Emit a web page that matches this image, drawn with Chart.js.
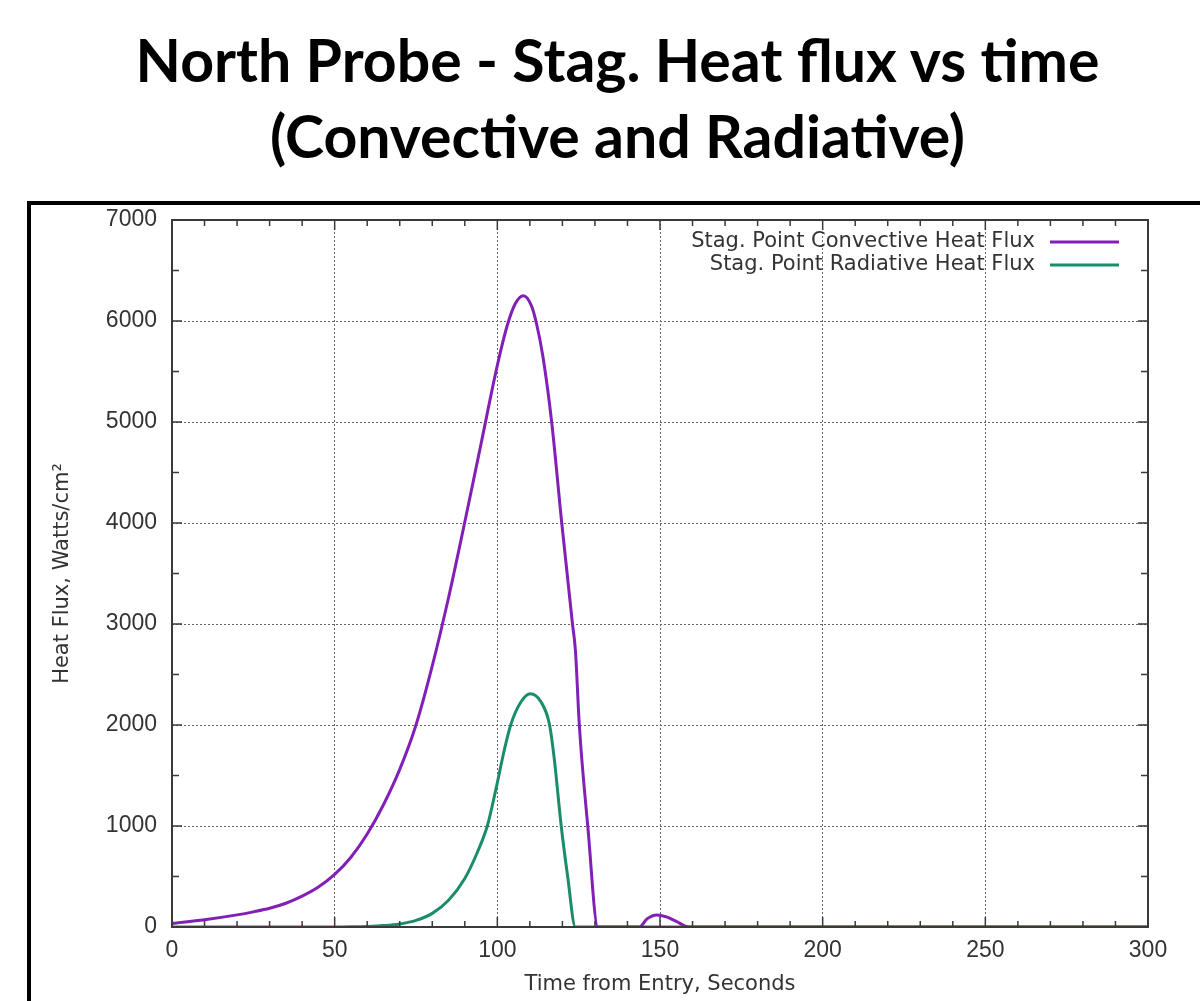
<!DOCTYPE html>
<html lang="en">
<head>
<meta charset="UTF-8">
<title>North Probe - Stag. Heat flux vs time</title>
<script src="https://cdn.jsdelivr.net/npm/chart.js"></script>
<style>
    body { margin: 0; background: #fff; width: 1200px; height: 1001px; overflow: hidden; position: relative; }
    .title {
        position: absolute; left: 0; top: 22px; width: 1235px; text-align: center;
        font-family: 'Lato', sans-serif; font-weight: bold; font-size: 59px; line-height: 76px; color: #000;
    }
    .frame {
        position: absolute; left: 27px; top: 201px; width: 1300px; height: 900px;
        border: 4px solid #000; box-sizing: border-box;
    }
    #chart { position: absolute; left: 0; top: 0; }
</style>
</head>
<body>
<div class="title">North Probe - Stag. Heat flux vs time<br>(Convective and Radiative)</div>
<div class="frame"></div>
<canvas id="chart" width="1200" height="1001"></canvas>

<script>
// data (seconds, W/cm^2)
const convTime = [0, 10, 20, 25, 30, 35, 40, 45, 50, 55, 60, 65, 70, 75, 80, 85, 90, 95, 100, 103, 105.5, 108, 110.5, 112, 114, 116.7, 119.8, 123.1, 124.0, 125.2, 127.8, 130.9, 143.7, 146, 149, 152, 155, 159, 300];
const convFlux = [35, 72, 120, 150, 185, 235, 305, 395, 520, 690, 920, 1210, 1560, 2000, 2585, 3260, 4010, 4785, 5560, 5950, 6170, 6250, 6150, 5980, 5650, 5000, 4000, 3000, 2740, 2000, 1000, 0, 0, 80, 120, 100, 55, 0, 0];

const radTime = [0, 50, 55, 60, 65, 70, 75, 80, 85, 90, 94, 97, 99.6, 102.2, 104.2, 107.3, 110.1, 113.4, 116.0, 117.5, 119.6, 121.6, 124.0, 300];
const radFlux = [0, 0, 2, 6, 14, 30, 65, 135, 265, 480, 750, 1010, 1370, 1760, 2010, 2230, 2310, 2230, 2010, 1665, 1010, 505, 0, 0];

const xTicks = [0, 50, 100, 150, 200, 250, 300];
const yTicks = [0, 1000, 2000, 3000, 4000, 5000, 6000, 7000];

const seriesNames = ['Stag. Point Convective Heat Flux', 'Stag. Point Radiative Heat Flux'];
const seriesColors = ['#821fb6', '#1a8c6a'];

function pairs(xs, ys) {
    return xs.map((x, i) => ({ x: x, y: ys[i] }));
}

// gnuplot style frame, inward major/minor tics on all four sides, legend at top right
const gnuplotLook = {
    id: 'gnuplotLook',
    afterDatasetsDraw(chart) {
        const c = chart.ctx;
        const a = chart.chartArea;
        const xs = chart.scales.x, ys = chart.scales.y;
        c.save();
        c.strokeStyle = '#3a3a3a';
        c.lineWidth = 1.5;
        c.beginPath();
        for (let v = 0; v <= 300; v += 10) {
            const px = xs.getPixelForValue(v);
            const len = v % 50 === 0 ? 10 : 6;
            c.moveTo(px, a.bottom); c.lineTo(px, a.bottom - len);
            c.moveTo(px, a.top); c.lineTo(px, a.top + len);
        }
        for (let v = 0; v <= 7000; v += 500) {
            const py = ys.getPixelForValue(v);
            const len = v % 1000 === 0 ? 10 : 7;
            c.moveTo(a.left, py); c.lineTo(a.left + len, py);
            c.moveTo(a.right, py); c.lineTo(a.right - len, py);
        }
        c.stroke();
        c.lineWidth = 2;
        c.strokeRect(a.left, a.top, a.right - a.left, a.bottom - a.top);

        // legend
        c.font = '21px "DejaVu Sans", sans-serif';
        c.textAlign = 'right';
        c.textBaseline = 'middle';
        chart.data.datasets.forEach((ds, i) => {
            const y = a.top + 22 + i * 23;
            c.fillStyle = '#333';
            c.fillText(ds.label, a.right - 113, y);
            c.strokeStyle = ds.borderColor;
            c.lineWidth = 3;
            c.beginPath();
            c.moveTo(a.right - 98, y); c.lineTo(a.right - 29, y);
            c.stroke();
        });
        c.restore();
    }
};

new Chart(document.getElementById('chart'), {
    type: 'line',
    data: {
        datasets: [
            {
                label: seriesNames[0],
                data: pairs(convTime, convFlux),
                borderColor: seriesColors[0],
                borderWidth: 3,
                pointRadius: 0,
                cubicInterpolationMode: 'monotone',
                fill: false
            },
            {
                label: seriesNames[1],
                data: pairs(radTime, radFlux),
                borderColor: seriesColors[1],
                borderWidth: 3,
                pointRadius: 0,
                cubicInterpolationMode: 'monotone',
                fill: false
            }
        ]
    },
    options: {
        responsive: false,
        animation: false,
        layout: { padding: { top: 220, left: 46, right: 52, bottom: 0 } },
        plugins: {
            legend: { display: false },
            tooltip: { enabled: false }
        },
        scales: {
            x: {
                type: 'linear',
                min: 0, max: 300,
                afterBuildTicks: s => { s.ticks = xTicks.map(v => ({ value: v })); },
                afterFit: s => { s.height = 74; },
                grid: { color: '#666', lineWidth: 1, drawTicks: false },
                border: { display: false, dash: [2, 2] },
                ticks: { color: '#333', padding: 10, font: { family: 'Liberation Sans', size: 23 },
                         callback: v => String(v) },
                title: { display: true, text: 'Time from Entry, Seconds', color: '#333', padding: { top: 4, bottom: 4 },
                         font: { family: 'DejaVu Sans', size: 21 } }
            },
            y: {
                min: 0, max: 7000,
                afterBuildTicks: s => { s.ticks = yTicks.map(v => ({ value: v })); },
                afterFit: s => { s.width = 126; },
                grid: { color: '#666', lineWidth: 1, drawTicks: false },
                border: { display: false, dash: [2, 2] },
                ticks: { color: '#333', padding: 15, font: { family: 'Liberation Sans', size: 23 },
                         callback: v => String(v) },
                title: { display: true, text: 'Heat Flux, Watts/cm²', color: '#333', padding: { top: 4, bottom: 4 },
                         font: { family: 'DejaVu Sans', size: 21 } }
            }
        }
    },
    plugins: [gnuplotLook]
});
</script>
</body>
</html>
